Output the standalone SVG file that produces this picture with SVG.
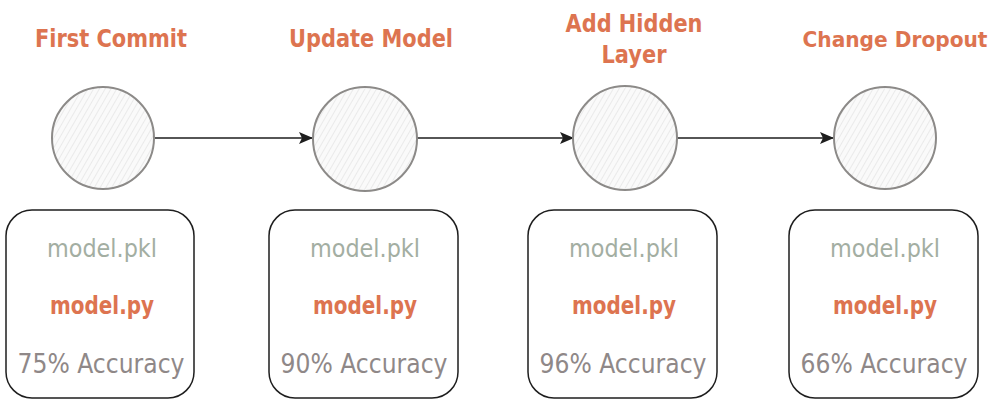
<svg xmlns="http://www.w3.org/2000/svg" width="1007" height="400" viewBox="0 0 1007 400">
<style>
.title{font-family:"DejaVu Sans",sans-serif;font-size:25px;font-weight:bold;fill:#dd7450;text-anchor:middle}
.pkl{font-family:"DejaVu Sans",sans-serif;font-size:25px;fill:#a3aea2;text-anchor:middle}
.py{font-family:"DejaVu Sans",sans-serif;font-size:25px;font-weight:bold;fill:#dd7450;text-anchor:middle}
.acc{font-family:"DejaVu Sans",sans-serif;font-size:27px;fill:#8f8888;text-anchor:middle}
.circ{fill:url(#hatch);stroke:#8c8a88;stroke-width:2}
.box{fill:#ffffff;stroke:#1e1e1e;stroke-width:1.5}
.edge{stroke:#1e1e1e;stroke-width:1.5;fill:none;marker-end:url(#arr)}
</style>
<defs>
<pattern id="hatch" width="5" height="5" patternUnits="userSpaceOnUse" patternTransform="rotate(30)">
<rect width="5" height="5" fill="#fafafa"/>
<line x1="0" y1="0" x2="0" y2="5" stroke="#e0e0e0" stroke-width="1.2"/>
</pattern>
<marker id="arr" viewBox="0 0 14 12" refX="13" refY="6" markerWidth="14" markerHeight="12" markerUnits="userSpaceOnUse" orient="auto">
<path d="M0,0 L14,6 L0,12 L3,6 Z" fill="#1e1e1e"/>
</marker>
</defs>
<rect width="1007" height="400" fill="#ffffff"/>
<g id="connectors">
<line class="edge" x1="155" y1="138" x2="312" y2="138"/>
<line class="edge" x1="417" y1="138" x2="573" y2="138"/>
<line class="edge" x1="677" y1="138" x2="833" y2="138"/>
</g>
<g id="commit1">
<text class="title" x="111" y="47" textLength="152" lengthAdjust="spacingAndGlyphs">First Commit</text>
<circle class="circ" cx="103" cy="138" r="51"/>
</g>
<g id="commit2">
<text class="title" x="371" y="47" textLength="164" lengthAdjust="spacingAndGlyphs">Update Model</text>
<circle class="circ" cx="365" cy="139" r="52"/>
</g>
<g id="commit3">
<text class="title" x="634" y="32" textLength="137" lengthAdjust="spacingAndGlyphs">Add Hidden</text>
<text class="title" x="634" y="63" textLength="65" lengthAdjust="spacingAndGlyphs">Layer</text>
<circle class="circ" cx="625" cy="138" r="52"/>
</g>
<g id="commit4">
<text class="title" x="895" y="47" style="font-size:22px" textLength="185" lengthAdjust="spacingAndGlyphs">Change Dropout</text>
<circle class="circ" cx="885" cy="138" r="51"/>
</g>
<g id="box1">
<rect class="box" x="6" y="210" width="188" height="188" rx="26"/>
<text class="pkl" x="102" y="257" textLength="110" lengthAdjust="spacingAndGlyphs">model.pkl</text>
<text class="py" x="102" y="314" textLength="104" lengthAdjust="spacingAndGlyphs">model.py</text>
<text class="acc" x="101" y="373" textLength="167" lengthAdjust="spacingAndGlyphs">75% Accuracy</text>
</g>
<g id="box2">
<rect class="box" x="269" y="210" width="189" height="188" rx="26"/>
<text class="pkl" x="365" y="257" textLength="110" lengthAdjust="spacingAndGlyphs">model.pkl</text>
<text class="py" x="365" y="314" textLength="104" lengthAdjust="spacingAndGlyphs">model.py</text>
<text class="acc" x="364" y="373" textLength="167" lengthAdjust="spacingAndGlyphs">90% Accuracy</text>
</g>
<g id="box3">
<rect class="box" x="528" y="210" width="189" height="188" rx="26"/>
<text class="pkl" x="624" y="257" textLength="110" lengthAdjust="spacingAndGlyphs">model.pkl</text>
<text class="py" x="624" y="314" textLength="104" lengthAdjust="spacingAndGlyphs">model.py</text>
<text class="acc" x="623" y="373" textLength="167" lengthAdjust="spacingAndGlyphs">96% Accuracy</text>
</g>
<g id="box4">
<rect class="box" x="789" y="210" width="189" height="188" rx="26"/>
<text class="pkl" x="885" y="257" textLength="110" lengthAdjust="spacingAndGlyphs">model.pkl</text>
<text class="py" x="885" y="314" textLength="104" lengthAdjust="spacingAndGlyphs">model.py</text>
<text class="acc" x="884" y="373" textLength="167" lengthAdjust="spacingAndGlyphs">66% Accuracy</text>
</g>
</svg>
